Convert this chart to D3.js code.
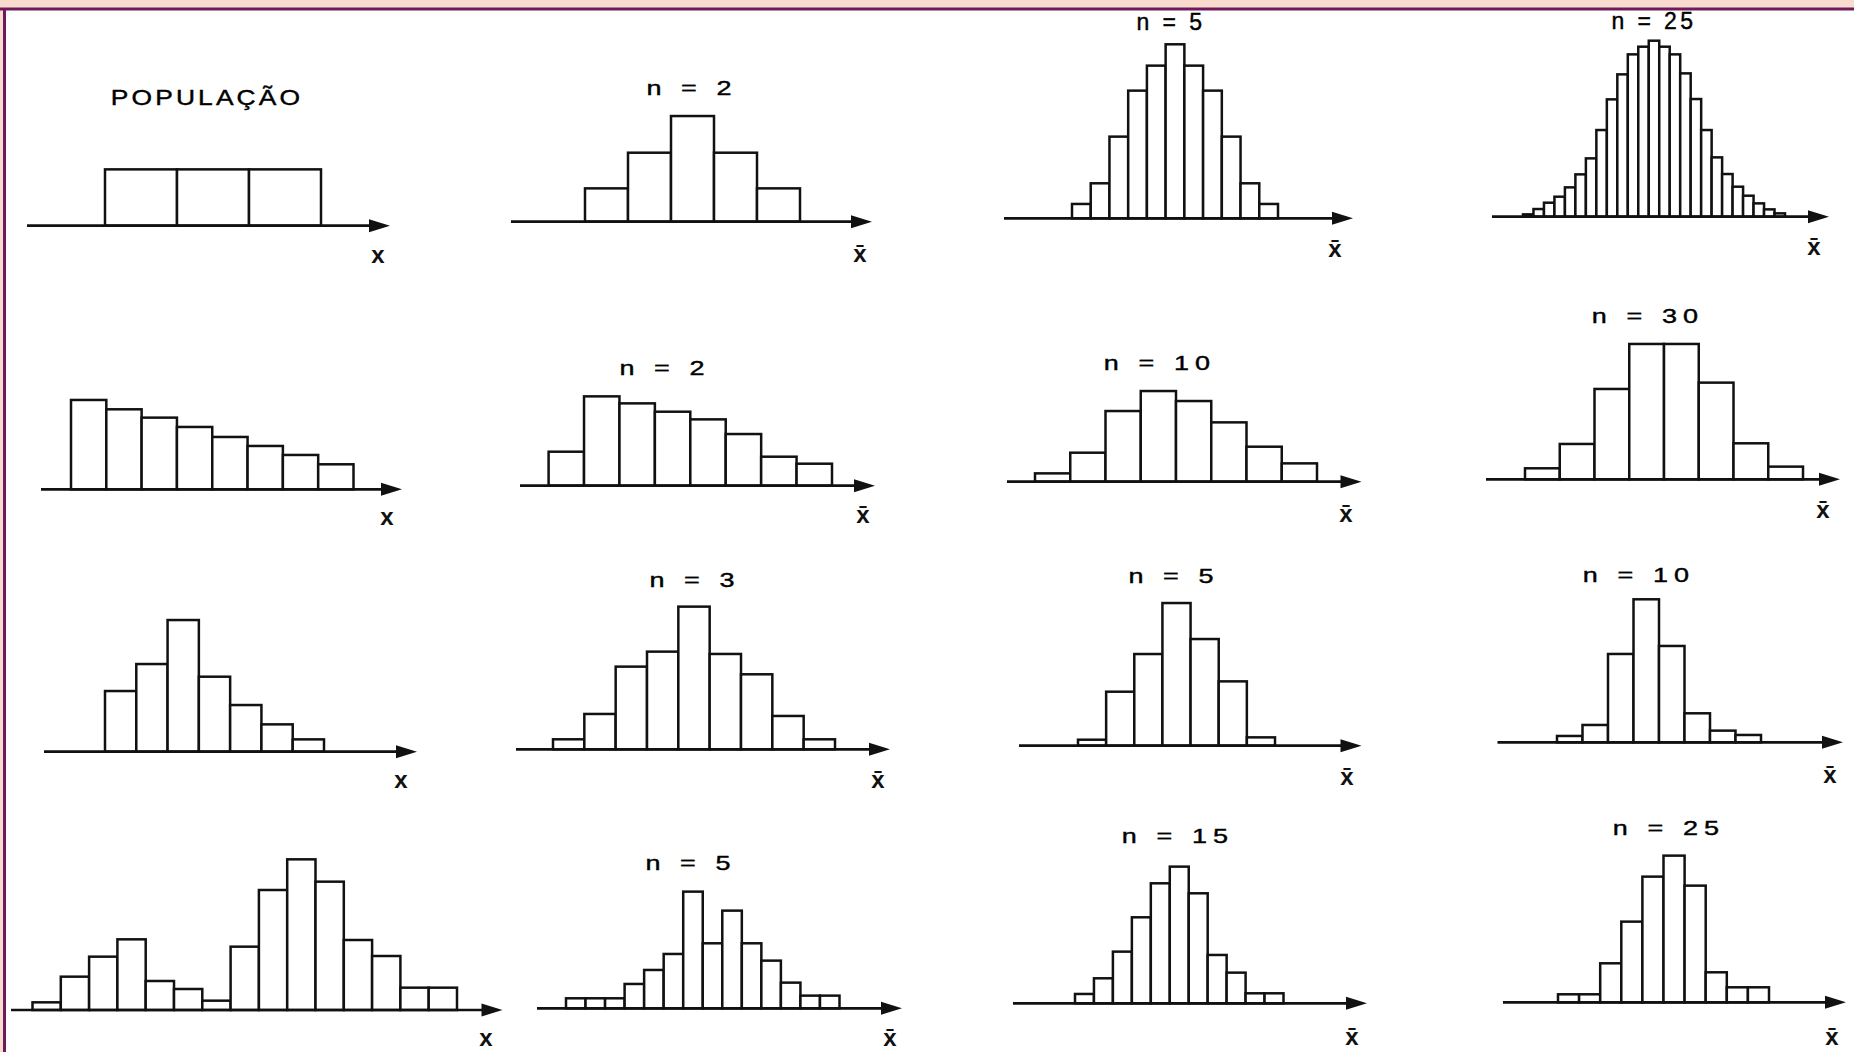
<!DOCTYPE html>
<html>
<head>
<meta charset="utf-8">
<script src="https://cdn.jsdelivr.net/npm/d3@7"></script>
<style>
  body { margin: 0; background: #fff; }
  svg { display: block; }
  .title { font-family: "Liberation Sans", Arial, sans-serif; font-size: 20px; letter-spacing: 4.5px; fill: #000; stroke: #000; stroke-width: 0.4px; }
  .title.tight { font-size: 23px; letter-spacing: 3.4px; }
  .title.pop { font-size: 22px; letter-spacing: 2.6px; }
  .axlabel { font-family: "Liberation Sans", Arial, sans-serif; font-size: 24px; font-weight: bold; fill: #111; }
</style>
</head>
<body>
<svg width="1854" height="1052"></svg>
<script>
var svg = d3.select("svg");

// bar heights (relative frequencies, arbitrary units)
var popUniform = [169, 169, 169];
var uniformN2 = [100, 207, 317, 207, 100];
var uniformN5 = [43, 105, 245, 383, 458, 522, 458, 383, 245, 105, 43];
var uniformN25 = [7, 23, 42, 60, 88, 127, 175, 260, 352, 427, 487, 510, 528, 510, 487, 430, 353, 260, 178, 128, 90, 63, 40, 22, 10];

var popDecreasing = [268, 240, 215, 187, 157, 130, 103, 75];
var decreasingN2 = [102, 268, 247, 222, 199, 155, 87, 66];
var decreasingN10 = [25, 87, 212, 272, 242, 178, 105, 55];
var decreasingN30 = [33, 106, 271, 406, 406, 290, 108, 38];

var popSkewed = [182, 263, 395, 225, 140, 82, 37];
var skewedN3 = [30, 106, 248, 293, 428, 286, 225, 100, 30];
var skewedN5 = [18, 162, 275, 428, 320, 193, 25];
var skewedN10 = [19, 52, 265, 429, 289, 87, 35, 22];

var popBimodal = [23, 100, 160, 212, 87, 63, 28, 190, 360, 452, 385, 210, 162, 67, 67];
var bimodalN5 = [30, 30, 30, 73, 115, 163, 350, 195, 293, 195, 143, 77, 38, 38];
var bimodalN15 = [28, 75, 155, 258, 360, 410, 330, 145, 92, 30, 30];
var bimodalN25 = [24, 24, 117, 242, 377, 440, 350, 90, 45, 45];

var titles = ["POPULAÇÃO", "n = 2", "n = 5", "n = 25",
              "", "n = 2", "n = 10", "n = 30",
              "", "n = 3", "n = 5", "n = 10",
              "", "n = 5", "n = 15", "n = 25"];
var axisLabels = ["x", "x\u0304", "x\u0304", "x\u0304"];

var series = [popUniform, uniformN2, uniformN5, uniformN25,
              popDecreasing, decreasingN2, decreasingN10, decreasingN30,
              popSkewed, skewedN3, skewedN5, skewedN10,
              popBimodal, bimodalN5, bimodalN15, bimodalN25];

// layout of each small panel: axis start/end, baseline, bar span, title and label spots
var layout = [
  {ax0: 27, ax1: 390, base: 225.7, bx0: 105, bx1: 321, tx: 207, ty: 105, lx: 378, ly: 263},
  {ax0: 511, ax1: 872, base: 221.7, bx0: 585, bx1: 800, tx: 692, ty: 95, lx: 860, ly: 261.7},
  {ax0: 1004, ax1: 1353, base: 218.3, bx0: 1072, bx1: 1278, tx: 1171, ty: 30, lx: 1335, ly: 256.7},
  {ax0: 1492, ax1: 1829, base: 216.7, bx0: 1523, bx1: 1785, tx: 1654, ty: 29, lx: 1814, ly: 255},
  {ax0: 41, ax1: 402, base: 489.3, bx0: 71, bx1: 353.5, tx: 0, ty: 0, lx: 387, ly: 525},
  {ax0: 520, ax1: 875, base: 485.7, bx0: 548.6, bx1: 832, tx: 665, ty: 375, lx: 863, ly: 523.3},
  {ax0: 1007, ax1: 1361.5, base: 481.7, bx0: 1035, bx1: 1317, tx: 1160, ty: 370, lx: 1346, ly: 521.7},
  {ax0: 1486, ax1: 1840, base: 479.3, bx0: 1525, bx1: 1803, tx: 1648, ty: 323.3, lx: 1823, ly: 518.3},
  {ax0: 44, ax1: 417, base: 751.7, bx0: 105, bx1: 324, tx: 0, ty: 0, lx: 401, ly: 788.3},
  {ax0: 516, ax1: 890, base: 749.3, bx0: 553, bx1: 835, tx: 695, ty: 586.7, lx: 878, ly: 788.3},
  {ax0: 1019, ax1: 1361.5, base: 745.7, bx0: 1078, bx1: 1275, tx: 1174, ty: 582.7, lx: 1347, ly: 785},
  {ax0: 1497.5, ax1: 1843, base: 742.3, bx0: 1557, bx1: 1761, tx: 1639, ty: 581.7, lx: 1830, ly: 783.3},
  {ax0: 11, ax1: 502.5, base: 1010, bx0: 32.5, bx1: 457, tx: 0, ty: 0, lx: 486, ly: 1046},
  {ax0: 537, ax1: 902, base: 1008.3, bx0: 566, bx1: 839.5, tx: 691, ty: 870, lx: 890, ly: 1046},
  {ax0: 1013, ax1: 1367, base: 1003.3, bx0: 1075, bx1: 1283.5, tx: 1178, ty: 843.3, lx: 1352, ly: 1045},
  {ax0: 1503, ax1: 1846, base: 1002.3, bx0: 1558, bx1: 1769, tx: 1669, ty: 835, lx: 1832, ly: 1045}
];

// one height scale for every panel
var y = d3.scaleLinear().domain([0, 600]).range([0, 200]);

// scanned page frame
svg.append("rect").attr("x", 0).attr("y", 0).attr("width", 1854).attr("height", 8).attr("fill", "#f9dccd");
svg.append("rect").attr("x", 0).attr("y", 0).attr("width", 3).attr("height", 1052).attr("fill", "#f9dccd");
svg.append("line").attr("x1", 0).attr("x2", 1854).attr("y1", 9).attr("y2", 9)
    .attr("stroke", "#6e1a5c").attr("stroke-width", 3);
svg.append("line").attr("x1", 4.5).attr("x2", 4.5).attr("y1", 8).attr("y2", 1052)
    .attr("stroke", "#6e1a5c").attr("stroke-width", 3);

series.forEach(function(values, i) {
  var L = layout[i];
  var g = svg.append("g");

  var x = d3.scaleBand()
      .domain(d3.range(values.length))
      .range([L.bx0, L.bx1])
      .paddingInner(0);

  g.selectAll("rect")
      .data(values)
      .enter().append("rect")
      .attr("x", function(d, j) { return x(j); })
      .attr("y", function(d) { return L.base - y(d); })
      .attr("width", x.bandwidth())
      .attr("height", function(d) { return y(d); })
      .attr("fill", "#fff")
      .attr("stroke", "#111")
      .attr("stroke-width", 2.5);

  // axis with arrow
  g.append("line")
      .attr("x1", L.ax0).attr("x2", L.ax1 - 16)
      .attr("y1", L.base).attr("y2", L.base)
      .attr("stroke", "#111")
      .attr("stroke-width", 2.7);
  g.append("path")
      .attr("d", "M" + L.ax1 + "," + L.base + "L" + (L.ax1 - 21) + "," + (L.base - 6.5) +
                 "L" + (L.ax1 - 21) + "," + (L.base + 6.5) + "Z")
      .attr("fill", "#111");

  if (titles[i]) {
    var tight = (i == 2 || i == 3);
    var sx = i == 0 ? 1.2 : (tight ? 1.0 : 1.35);
    g.append("text")
        .attr("class", "title" + (i == 0 ? " pop" : (tight ? " tight" : "")))
        .attr("transform", "translate(" + L.tx + "," + L.ty + ") scale(" + sx + ",1)")
        .attr("text-anchor", "middle")
        .text(titles[i]);
  }

  g.append("text")
      .attr("class", "axlabel")
      .attr("x", L.lx)
      .attr("y", L.ly)
      .attr("text-anchor", "middle")
      .text(axisLabels[i % 4]);
});
</script>
</body>
</html>
